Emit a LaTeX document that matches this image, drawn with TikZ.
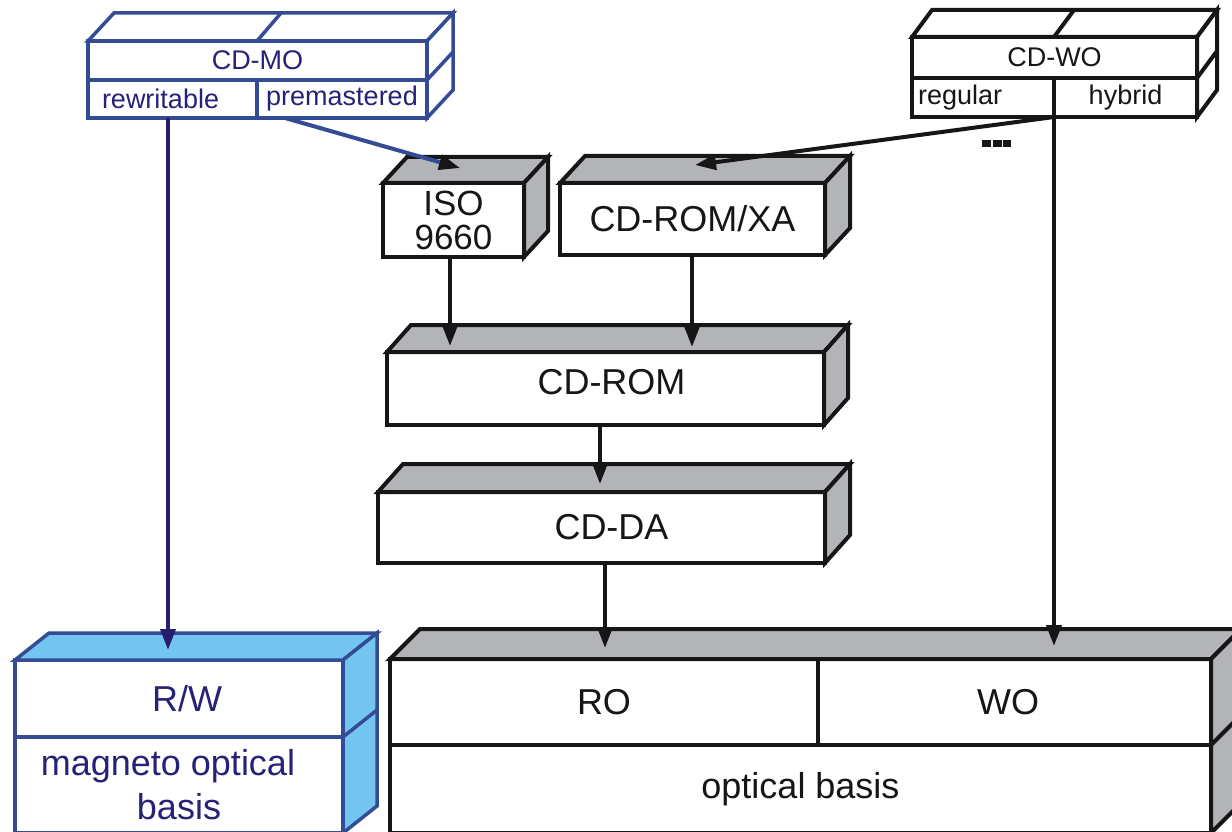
\documentclass[tikz,border=0pt]{standalone}
\usepackage{fontspec}
\setmainfont{Liberation Sans}
\usetikzlibrary{calc,arrows.meta}
\definecolor{bline}{RGB}{52,76,150}
\definecolor{navy}{RGB}{38,34,120}
\definecolor{darknavy}{RGB}{40,30,110}
\definecolor{lblue}{RGB}{115,197,239}
\definecolor{gface}{RGB}{179,180,184}
\definecolor{ink}{RGB}{22,22,22}
% top and right faces of a box: #1 front top-left, #2 front top-right, #3 front bottom-right, #4,#5 depth, #6 style
\newcommand\boxfaces[6]{%
  \draw[#6] (#1) -- ++(#4,#5) -- ($(#2)+(#4,#5)$) -- (#2) -- cycle;
  \draw[#6] (#2) -- ++(#4,#5) -- ($(#3)+(#4,#5)$) -- (#3) -- cycle;}
\begin{document}
\begin{tikzpicture}[x=1pt,y=-1pt,
  cell/.style 2 args={draw, rectangle, inner sep=0pt, outer sep=0pt,
    minimum width=#1pt, minimum height=#2pt, fill=white},
  bk/.style={draw=ink, line width=4pt, text=ink},
  bl/.style={draw=bline, line width=3.5pt, text=navy},
  big/.style={font=\fontsize{36}{40}\selectfont},
  small/.style={font=\fontsize{27}{30}\selectfont},
  gfaces/.style={draw=ink, line width=4pt, fill=gface},
  wofaces/.style={draw=ink, line width=4pt, fill=white},
  mofaces/.style={draw=bline, line width=3.5pt, fill=white},
  bfaces/.style={draw=bline, line width=3.5pt, fill=lblue},
  arr/.style={draw=ink, line width=4pt, -{Triangle[length=21pt,width=15pt]}},
  navyarr/.style={draw=darknavy, line width=4pt, -{Triangle[length=21pt,width=15pt]}},
  bluearr/.style={draw=bline, line width=4pt, -{Triangle[length=21pt,width=15pt,color=ink]}}]
\useasboundingbox (0,0) rectangle (1232,832);
\clip (0,0) rectangle (1232,832);

% CD-MO
\node[cell={339}{39}, bl, small] (mo) at (257.5,60.5) {CD-MO};
\node[cell={169}{38}, bl, small, text width=141pt, align=left] (rw) at (172.5,99) {rewritable};
\node[cell={170}{38}, bl, small] (pm) at (342,99) {premastered};
\boxfaces{mo.north west}{mo.north east}{pm.south east}{26}{-28}{mofaces}
\draw[bl] (mo.north -| pm.west) -- ++(24,-28);
\draw[bl] (mo.south east) -- ++(26,-28);

% CD-WO
\node[cell={285}{41}, bk, small] (wo) at (1054.5,57.5) {CD-WO};
\node[cell={142}{39}, bk, small, text width=130pt, align=left] (reg) at (983,97.5) {regular};
\node[cell={143}{39}, bk, small] (hyb) at (1125.5,97.5) {hybrid};
\boxfaces{wo.north west}{wo.north east}{hyb.south east}{20}{-27}{wofaces}
\draw[bk] (wo.north -| hyb.west) -- ++(20,-27);
\draw[bk] (wo.south east) -- ++(20,-27);
\fill[ink] (982,140) rectangle ++(9,7);
\fill[ink] (993,140) rectangle ++(8.5,7);
\fill[ink] (1003,140) rectangle ++(8,7);

% ISO 9660
\node[cell={141}{74}, bk, align=center, font=\fontsize{35}{34}\selectfont] (iso) at (453.5,220) {ISO\\9660};
\boxfaces{iso.north west}{iso.north east}{iso.south east}{24}{-26}{gfaces}

% CD-ROM/XA
\node[cell={265}{72}, bk, big] (xa) at (692.5,219) {CD-ROM/XA};
\boxfaces{xa.north west}{xa.north east}{xa.south east}{25}{-27}{gfaces}

% CD-ROM
\node[cell={437}{73}, bk, big, text depth=14pt] (rom) at (605.5,388.5) {\hspace*{12pt}CD-ROM};
\boxfaces{rom.north west}{rom.north east}{rom.south east}{24}{-27}{gfaces}

% CD-DA
\node[cell={447}{71}, bk, big] (da) at (601.5,527.5) {\hspace*{20pt}CD-DA};
\boxfaces{da.north west}{da.north east}{da.south east}{25}{-28}{gfaces}

% RO / WO / optical basis
\node[cell={428}{86}, bk, big] (ro) at (604,702) {RO};
\node[cell={393}{86}, bk, big] (woc) at (1014.5,702) {WO\hspace*{13pt}};
\node[cell={821}{88}, bk, big] (ob) at (800.5,789) {optical basis};
\boxfaces{ro.north west}{woc.north east}{ob.south east}{30}{-30}{gfaces}
\draw[bk] (woc.south east) -- ++(30,-30);

% R/W
\node[cell={328}{77}, bl, big] (rwc) at (179,698.5) {\hspace*{16pt}R/W};
\node[cell={328}{96}, bl, align=center, font=\fontsize{36}{44}\selectfont] (mob) at (179,785) {magneto optical\hspace*{22pt}\\basis};
\boxfaces{rwc.north west}{rwc.north east}{mob.south east}{34}{-27}{bfaces}
\draw[bl] (rwc.south east) -- ++(34,-27);

% connectors
\coordinate (rwin) at (168,650);
\draw[navyarr] (rw.south -| rwin) -- (rwin);
\coordinate (isoin) at (460,168);
\draw[bluearr] ($(pm.south west)+(28,0)$) -- (isoin);
\coordinate (xain) at (695,165);
\draw[arr] (hyb.south west) -- (xain);
\coordinate (basein2) at (1054,646);
\draw[arr] (hyb.south west) -- (basein2);
\coordinate (romin1) at (450,346);
\draw[arr] (iso.south -| romin1) -- (romin1);
\coordinate (romin2) at (692,347);
\draw[arr] (xa.south -| romin2) -- (romin2);
\coordinate (dain) at (600,484);
\draw[arr] (rom.south -| dain) -- (dain);
\coordinate (basein1) at (605,648);
\draw[arr] (da.south -| basein1) -- (basein1);
\end{tikzpicture}
\end{document}
